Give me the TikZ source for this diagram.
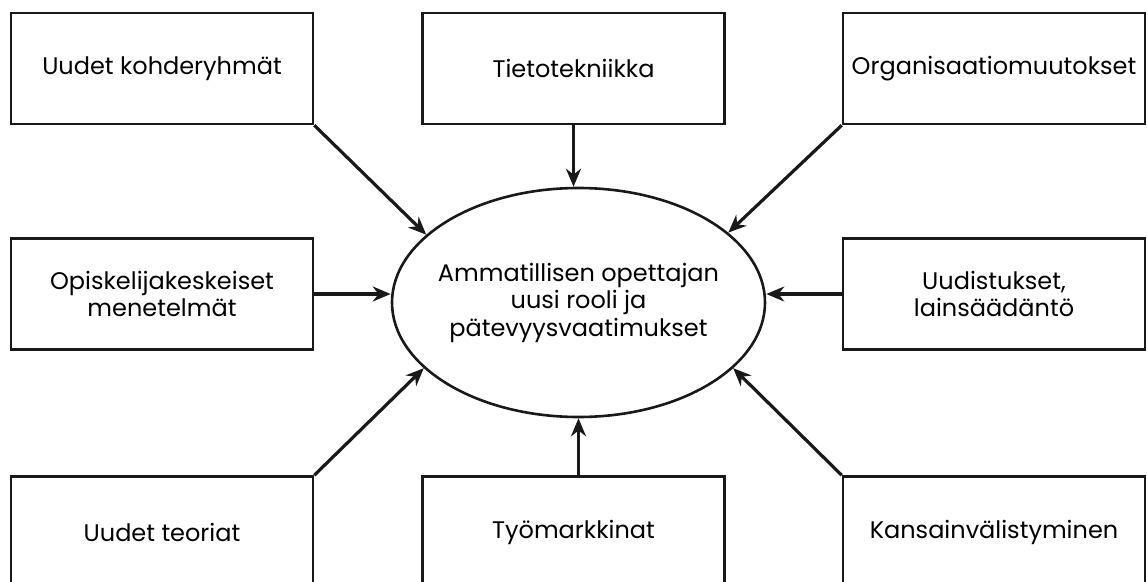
\documentclass[tikz,border=0pt]{standalone}
\usepackage{fontspec}
\setmainfont{Poppins}
\usetikzlibrary{arrows.meta,shapes.geometric}
\tikzset{
  box/.style={draw=black!90, line width=2.6pt, minimum width=302pt, minimum height=111pt, align=center, inner sep=0pt, font=\fontsize{24}{27}\selectfont},
  hub/.style={draw=black!90, line width=2.6pt, ellipse, minimum width=373pt, minimum height=229pt, inner sep=0pt},
  hubtext/.style={align=center, inner sep=0pt, font=\fontsize{24}{27.5}\selectfont},
  arr/.style={line width=3.2pt, draw=black!90, -{Stealth[length=18pt,width=15pt]}}
}
\begin{document}
\begin{tikzpicture}[x=1pt,y=-1pt]
\useasboundingbox (0,0) rectangle (1148,581);
\node[hub] (c) at (578.5,302.5) {};
\node[hubtext] (ct) at (c.center) {Ammatillisen opettajan\\uusi rooli ja\\pätevyysvaatimukset};
\node[box] (tl) at (162,68.5) {Uudet kohderyhmät};
\node[box] (tm) at (573.5,68.5) {Tietotekniikka};
\node[box] (tr) at (994,68.5) {Organisaatiomuutokset};
\node[box] (ml) at (162,294) {Opiskelijakeskeiset\\menetelmät};
\node[box] (mr) at (994,294) {Uudistukset,\\lainsäädäntö};
\node[box] (bl) at (162,532) {Uudet teoriat};
\node[box] (bm) at (573.5,532) {Työmarkkinat};
\node[box] (br) at (994,532) {Kansainvälistyminen};
\draw[arr] (tl.south east) -- (c.156);
\draw[arr] (tm.south) -- (c.north -| tm.south);
\draw[arr] (tr.south west) -- (c.25);
\draw[arr] (ml.east) -- (c.west |- ml.east);
\draw[arr] (mr.west) -- (c.east |- mr.west);
\draw[arr] (bl.north east) -- (c.203);
\draw[arr] (bm.north -| c.south) -- (c.south);
\draw[arr] (br.north west) -- (c.337);
\end{tikzpicture}
\end{document}
